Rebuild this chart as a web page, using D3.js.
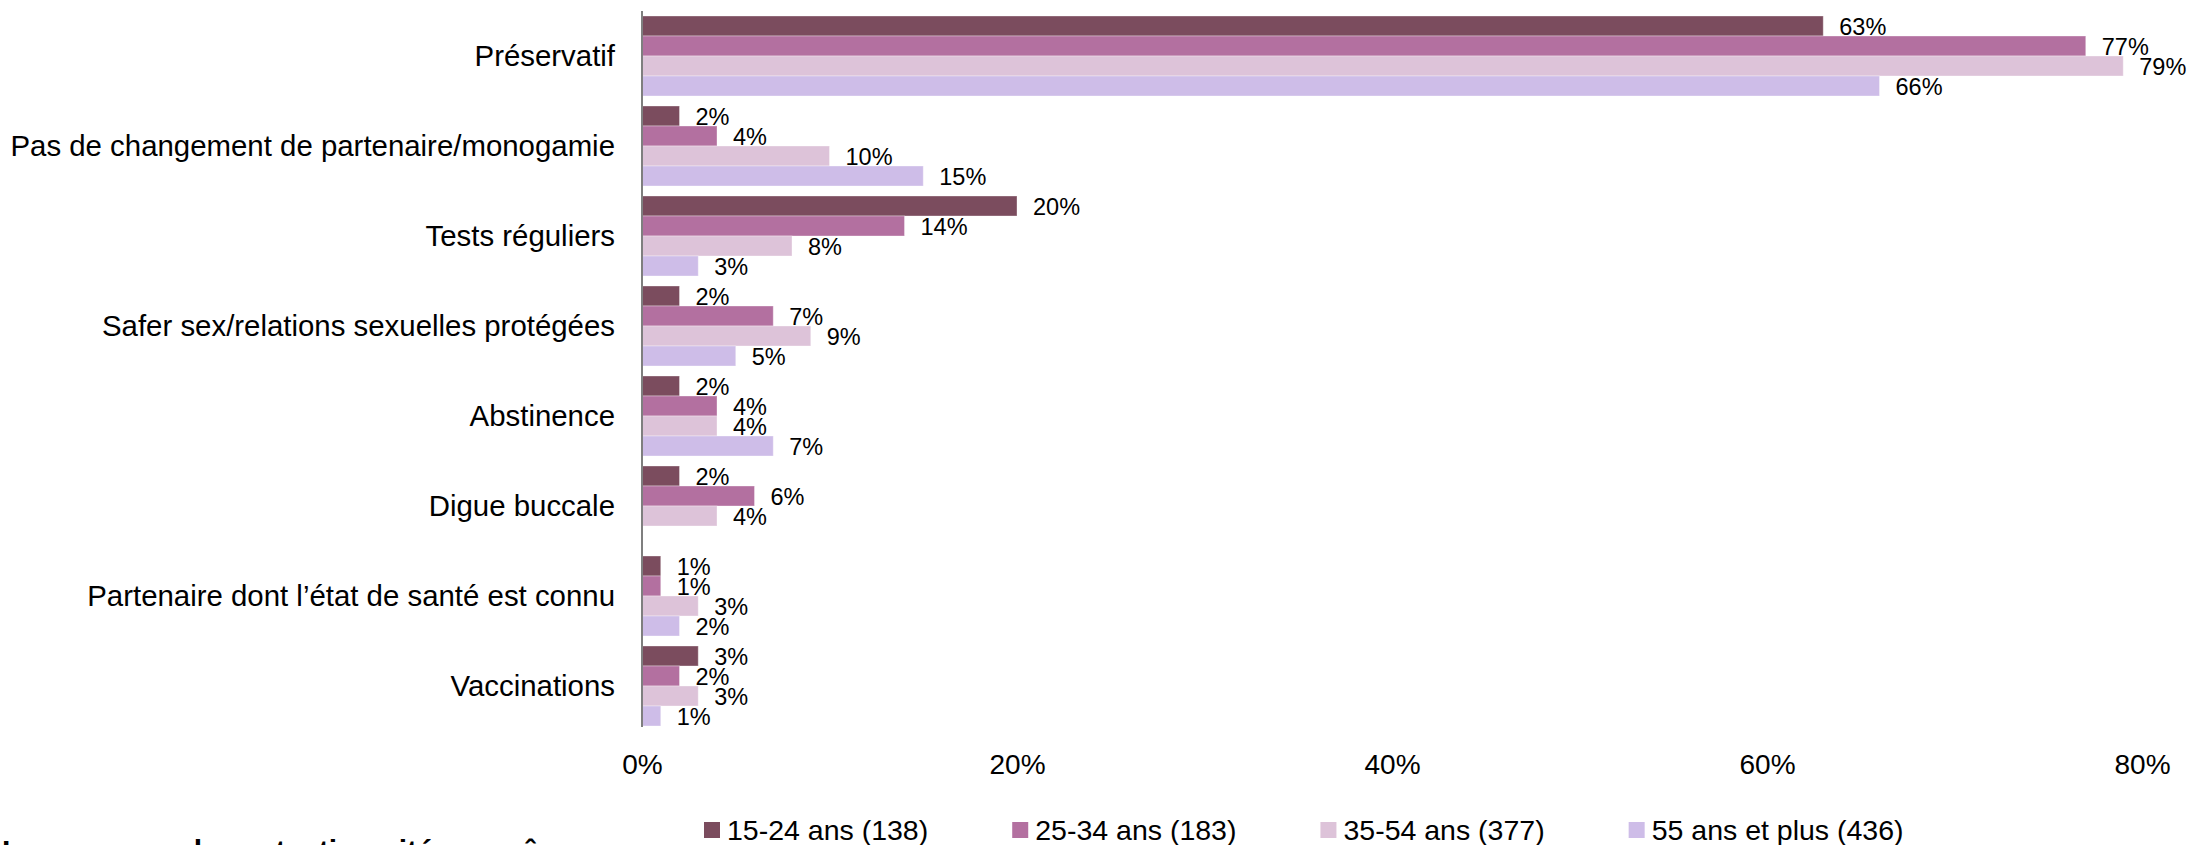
<!DOCTYPE html>
<html>
<head>
<meta charset="utf-8">
<script src="https://cdn.jsdelivr.net/npm/d3@7"></script>
<style>
  html, body { margin: 0; padding: 0; background: #ffffff; overflow: hidden; }
  svg { display: block; }
  text { font-family: "Liberation Sans", Arial, sans-serif; fill: #000; }
</style>
</head>
<body>
<svg id="chart" width="2189" height="845"></svg>
<script>
// ---- DATA ----
const categories = [
  "Préservatif",
  "Pas de changement de partenaire/monogamie",
  "Tests réguliers",
  "Safer sex/relations sexuelles protégées",
  "Abstinence",
  "Digue buccale",
  "Partenaire dont l’état de santé est connu",
  "Vaccinations"
];
const seriesNames = ["15-24 ans (138)", "25-34 ans (183)", "35-54 ans (377)", "55 ans et plus (436)"];
const seriesColors = ["#7B4C5E", "#B370A0", "#DDC3D9", "#CEBDE8"];
const age15_24 = [0.63, 0.02, 0.20, 0.02, 0.02, 0.02, 0.01, 0.03];
const age25_34 = [0.77, 0.04, 0.14, 0.07, 0.04, 0.06, 0.01, 0.02];
const age35_54 = [0.79, 0.10, 0.08, 0.09, 0.04, 0.04, 0.03, 0.03];
const age55plus = [0.66, 0.15, 0.03, 0.05, 0.07, null, 0.02, 0.01];
const xTicks = [0, 0.2, 0.4, 0.6, 0.8];
const footText = "Les moyens de protection cités, par âge";

const seriesValues = [age15_24, age25_34, age35_54, age55plus];

// ---- SCALES ----
const svg = d3.select("#chart");
const x = d3.scaleLinear().domain([0, 0.8]).range([642, 2142]);
const y = d3.scaleBand().domain(categories).range([11, 731]).paddingInner(1 / 9).paddingOuter(1 / 18);
const ys = d3.scaleBand().domain(seriesNames).range([0, y.bandwidth()]);
const pct = d3.format(".0%");

// ---- BARS ----
const groups = svg.append("g").selectAll("g")
  .data(categories)
  .join("g")
  .attr("transform", d => `translate(0,${y(d)})`);

groups.each(function (cat, ci) {
  const g = d3.select(this);
  const rows = seriesNames.map((s, si) => ({ s, si, v: seriesValues[si][ci] })).filter(d => d.v != null);
  g.selectAll("rect").data(rows).join("rect")
    .attr("x", x(0))
    .attr("y", d => ys(d.s))
    .attr("width", d => x(d.v) - x(0))
    .attr("height", ys.bandwidth())
    .attr("fill", d => seriesColors[d.si])
    .attr("stroke", "rgba(255,255,255,0.35)")
    .attr("stroke-width", 1);
  g.selectAll("text").data(rows).join("text")
    .attr("x", d => x(d.v) + 16)
    .attr("y", d => ys(d.s) + ys.bandwidth() - 1)
    .style("font-size", "23.5px")
    .text(d => pct(d.v));
});

// ---- Y AXIS (category) ----
const yAxis = d3.axisLeft(y).tickSize(0).tickPadding(27);
const yg = svg.append("g").attr("transform", `translate(${x(0)},0)`).call(yAxis);
yg.select(".domain").remove();
yg.selectAll("text").style("font-size", "29.4px").attr("dy", "0.35em")
  .style("font-family", "'Liberation Sans', Arial, sans-serif").attr("fill", "#000");

svg.append("line")
  .attr("x1", x(0)).attr("x2", x(0))
  .attr("y1", 11).attr("y2", 727)
  .attr("stroke", "#7f7f7f").attr("stroke-width", 2);

// ---- X AXIS ----
const xAxis = d3.axisBottom(x).tickValues(xTicks).tickFormat(pct).tickSize(0).tickPadding(0);
const xg = svg.append("g").attr("transform", `translate(0,774)`).call(xAxis);
xg.select(".domain").remove();
xg.selectAll("text").attr("dy", 0).attr("y", 0)
  .style("font-size", "28px")
  .style("font-family", "'Liberation Sans', Arial, sans-serif").attr("fill", "#000");

// ---- LEGEND ----
const legend = svg.append("g");
let lx = 704;
seriesNames.forEach((name, i) => {
  const item = legend.append("g").attr("transform", `translate(${lx},0)`);
  item.append("rect").attr("x", 0).attr("y", 822).attr("width", 16).attr("height", 16).attr("fill", seriesColors[i]);
  const t = item.append("text").attr("x", 23).attr("y", 840).style("font-size", "28.5px").text(name);
  lx += 23 + t.node().getComputedTextLength() + 84;
});

// ---- FOOT (clipped at the bottom edge, as in the source) ----
svg.append("text").attr("x", 2).attr("y", 861)
  .style("font-size", "30px").style("font-weight", "bold").text(footText);
</script>
</body>
</html>
